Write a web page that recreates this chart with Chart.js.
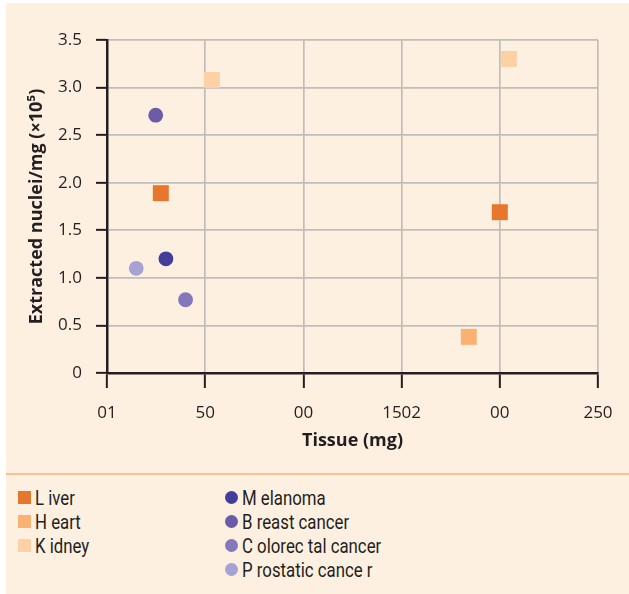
<!DOCTYPE html>
<html>
<head>
<meta charset="utf-8">
<script src="https://cdn.jsdelivr.net/npm/chart.js@4"></script>
<style>
body { margin: 0; background: #ffffff; width: 629px; height: 594px; position: relative; overflow: hidden; font-family: "Open Sans", sans-serif; }
#panel { position: absolute; left: 6px; top: 3px; width: 623px; height: 591px; background: #FDF0E1; }
#rule { position: absolute; left: 6px; top: 473px; width: 623px; height: 2px; background: #FBC08F; }
#myChart { position: absolute; left: 0; top: 0; }
.leg { position: absolute; font-family: Roboto, sans-serif; font-size: 20px; color: #231F20; line-height: 22px; white-space: pre; transform: scaleX(0.84); transform-origin: left center; }
.sw { position: absolute; width: 13px; height: 13px; }
</style>
</head>
<body>
<div id="panel"></div>
<div id="rule"></div>
<canvas id="myChart" width="629" height="470"></canvas>
<div id="legend"></div>
<script>
// tick labels as printed in the figure
var xTickValues = [0, 50, 100, 150, 200, 250]
var xTickLabels = ['01', '50', '00', '1502', '00', '250']
var yTickLabels = ['0', '0.5', '1.0', '1.5', '2.0', '2.5', '3.0', '3.5']

// tissue (mg) / extracted nuclei per mg (x10^5)
var liver_x = [27.4, 200]
var liver_y = [1.89, 1.69]
var heart_x = [184.2]
var heart_y = [0.38]
var kidney_x = [53.4, 204.6]
var kidney_y = [3.08, 3.30]
var melanoma_x = [30]
var melanoma_y = [1.20]
var breast_x = [24.8]
var breast_y = [2.71]
var colorectal_x = [40]
var colorectal_y = [0.77]
var prostatic_x = [14.9]
var prostatic_y = [1.10]

var series_names = ['L iver', 'H eart', 'K idney', 'M elanoma', 'B reast cancer', 'C olorec tal cancer', 'P rostatic cance r']
var series_colors = ['#E8772E', '#FBB172', '#FDD0A5', '#443E9B', '#6C5CA8', '#8478BA', '#A8A2D2']
var series_x = [liver_x, heart_x, kidney_x, melanoma_x, breast_x, colorectal_x, prostatic_x]
var series_y = [liver_y, heart_y, kidney_y, melanoma_y, breast_y, colorectal_y, prostatic_y]

function points(xs, ys){
    var out = []
    for (var i = 0; i < xs.length; i++){
        out.push({x: xs[i], y: ys[i]})
    }
    return out
}

var datasets = []
for (var s = 0; s < series_names.length; s++){
    var isTissue = s < 3
    datasets.push({
        label: series_names[s],
        data: points(series_x[s], series_y[s]),
        backgroundColor: series_colors[s],
        borderWidth: 0,
        pointStyle: isTissue ? 'rect' : 'circle',
        pointRadius: isTissue ? 11.3 : 7.4
    })
}

var ink = '#231F20'
var tickFont = {family: 'Open Sans', size: 17}

var ctx = document.getElementById('myChart').getContext('2d');
var myChart = new Chart(ctx, {
    type: 'scatter',
    data: {datasets: datasets},
    options: {
        responsive: false,
        animation: false,
        devicePixelRatio: 1,
        layout: {padding: {top: 40, right: 31, left: 0, bottom: 0}},
        plugins: {legend: {display: false}, tooltip: {enabled: false}},
        scales: {
            x: {
                type: 'linear',
                min: 0,
                max: 250,
                afterBuildTicks: function(axis){
                    axis.ticks = xTickValues.map(function(v){ return {value: v} })
                },
                afterFit: function(axis){ axis.height = 97 },
                ticks: {
                    color: ink,
                    font: tickFont,
                    padding: 15,
                    maxRotation: 0,
                    callback: function(value, index){ return xTickLabels[index] }
                },
                grid: {color: '#C0BEBB', lineWidth: 1.7, tickColor: ink, tickLength: 15, tickWidth: 2},
                border: {color: ink, width: 2.5},
                title: {display: true, text: 'Tissue (mg)', color: ink, font: {family: 'Open Sans', size: 18, weight: 'bold'}, padding: {bottom: 18}}
            },
            y: {
                min: 0,
                max: 3.5,
                afterFit: function(axis){ axis.width = 107 },
                ticks: {
                    color: ink,
                    font: tickFont,
                    padding: 14,
                    stepSize: 0.5,
                    callback: function(value, index){ return yTickLabels[index] }
                },
                grid: {color: '#C0BEBB', lineWidth: 1.7, tickColor: ink, tickLength: 11, tickWidth: 2},
                border: {color: ink, width: 2.5},
                title: {display: true, text: 'Extracted nuclei/mg (\u00d710\u2075)', color: ink, font: {family: 'Open Sans', size: 18, weight: 'bold'}, padding: {top: 26}}
            }
        }
    }
});

// legend, two columns
var legend = document.getElementById('legend')
var colLeft = [18, 225]
var rowTop = 491
for (var k = 0; k < series_names.length; k++){
    var col = k < 3 ? 0 : 1
    var row = k < 3 ? k : k - 3
    var sw = document.createElement('div')
    sw.className = 'sw'
    sw.style.left = colLeft[col] + 'px'
    sw.style.top = (rowTop + row * 24) + 'px'
    sw.style.background = series_colors[k]
    if (col == 1){ sw.style.borderRadius = '50%' }
    legend.appendChild(sw)
    var tx = document.createElement('div')
    tx.className = 'leg'
    tx.textContent = series_names[k]
    tx.style.left = (colLeft[col] + 17) + 'px'
    tx.style.top = (rowTop + row * 24 - 4) + 'px'
    legend.appendChild(tx)
}
</script>
</body>
</html>
